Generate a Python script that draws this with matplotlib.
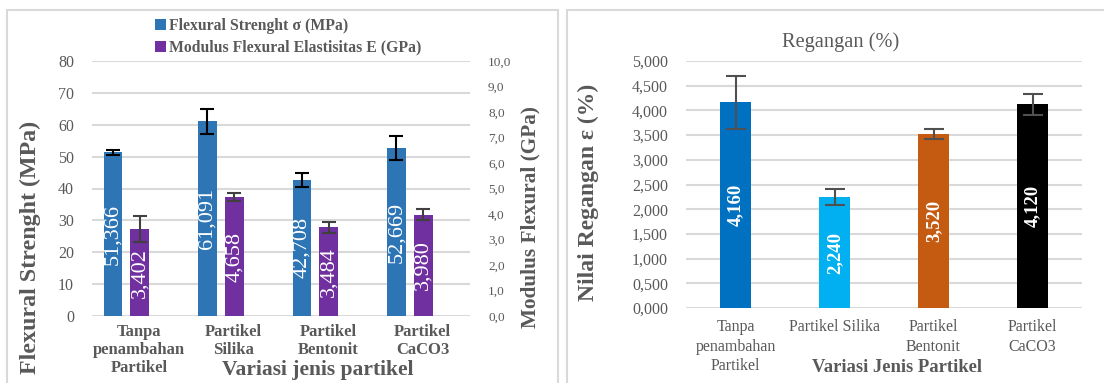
import numpy as np
import matplotlib
matplotlib.use("Agg")
import matplotlib.pyplot as plt
from matplotlib.patches import Rectangle
from matplotlib.ticker import FuncFormatter

# === DATA ===
left_categories = ["Tanpa\npenambahan\nPartikel", "Partikel\nSilika",
                   "Partikel\nBentonit", "Partikel\nCaCO3"]
flexural_strength = [51.366, 61.091, 42.708, 52.669]        # MPa
flexural_strength_err = [0.7, 4.0, 2.3, 3.7]
modulus_flexural = [3.402, 4.658, 3.484, 3.980]              # GPa
modulus_flexural_err = [0.5, 0.15, 0.22, 0.23]

right_categories = ["Tanpa\npenambahan\nPartikel", "Partikel Silika",
                    "Partikel\nBentonit", "Partikel\nCaCO3"]
regangan = [4.160, 2.240, 3.520, 4.120]                      # %
regangan_err = [0.53, 0.16, 0.10, 0.21]

plt.rcParams['font.family'] = ['Liberation Serif', 'DejaVu Serif']

W, H = 1104, 383
GRID = '#d9d9d9'
TXT = '#595959'


def px(x0, y_bottom, w, h):
    # pixel box (left, bottom y from top, width, height) -> figure fraction
    return [x0 / W, (H - y_bottom) / H, w / W, h / H]


def comma(fmt):
    return FuncFormatter(lambda v, p: (fmt % v).replace('.', ','))


fig = plt.figure(figsize=(W / 100, H / 100), dpi=100)

# panel frames
fig.patches.append(Rectangle((7 / W, -0.1), (558 - 7) / W, (H - 10) / H + 0.1,
                             transform=fig.transFigure, fill=False,
                             edgecolor=GRID, lw=1.5))
fig.patches.append(Rectangle((567 / W, -0.1), 1 - 567 / W + 0.01, (H - 10) / H + 0.1,
                             transform=fig.transFigure, fill=False,
                             edgecolor=GRID, lw=1.5))

# === LEFT CHART ===
ax = fig.add_axes(px(92, 316, 378, 255))
ax2 = ax.twinx()
x = np.arange(len(left_categories))
bw = 0.2
blue = '#2e75b6'
purple = '#7030a0'
b1 = ax.bar(x - 0.278, flexural_strength, bw, color=blue, zorder=3,
            yerr=flexural_strength_err, capsize=5,
            error_kw=dict(ecolor='black', elinewidth=1.5, capthick=1.5, zorder=4))
b2 = ax2.bar(x + 0.005, modulus_flexural, bw, color=purple, zorder=3,
             yerr=modulus_flexural_err, capsize=5,
             error_kw=dict(ecolor='#404040', elinewidth=1.5, capthick=1.5))
ax.set_xlim(-0.5, 3.5)
ax.set_ylim(0, 80)
ax.set_yticks(np.arange(0, 81, 10))
ax2.set_ylim(0, 10)
ax2.set_yticks(np.arange(0, 10.1, 1))
ax2.yaxis.set_major_formatter(comma('%.1f'))
ax.yaxis.grid(True, color=GRID, lw=1.5, zorder=0)
ax.set_axisbelow(True)
for a in (ax, ax2):
    for s in a.spines.values():
        s.set_visible(False)
    a.tick_params(length=0)
ax.tick_params(axis='y', labelsize=11.5, labelcolor=TXT, pad=13)
ax2.tick_params(axis='y', labelsize=9.5, labelcolor=TXT, pad=13)
ax.set_xticks(x)
ax.set_xticklabels(left_categories, fontsize=12, fontweight='bold',
                   color=TXT, linespacing=1.15)
ax.tick_params(axis='x', pad=6)

for rect, v in zip(b1, flexural_strength):
    ax.text(rect.get_x() + rect.get_width() / 2, v / 2,
            ('%.3f' % v).replace('.', ','), rotation=90, ha='center',
            va='center', color='white', fontsize=16, zorder=5)
for rect, v in zip(b2, modulus_flexural):
    ax2.text(rect.get_x() + rect.get_width() / 2, v / 2,
             ('%.3f' % v).replace('.', ','), rotation=90, ha='center',
             va='center', color='white', fontsize=16, zorder=5)

fig.text(30 / W, 1 - 247 / H, 'Flexural Strenght (MPa)', rotation=90,
         ha='center', va='center', fontsize=17.3, fontweight='bold', color=TXT)
fig.text(530 / W, 1 - 217 / H, 'Modulus Flexural (GPa)', rotation=90,
         ha='center', va='center', fontsize=15.3, fontweight='bold', color=TXT)
fig.text(318 / W, 1 - 370 / H, 'Variasi jenis partikel', ha='center',
         va='center', fontsize=15.5, fontweight='bold', color=TXT)
fig.legend([b1, b2], ['Flexural Strenght σ (MPa)',
                      'Modulus Flexural Elastisitas E (GPa)'],
           loc='upper left', bbox_to_anchor=(141 / W, 1 - 4 / H),
           frameon=False, handlelength=0.7, handleheight=0.7,
           handletextpad=0.2, labelspacing=0.35,
           prop=dict(family='Liberation Serif', weight='bold', size=11.3),
           labelcolor=TXT)

# === RIGHT CHART ===
axr = fig.add_axes(px(686, 308, 396, 247))
xr = np.arange(len(right_categories))
colors_r = ['#0070c0', '#00b0f0', '#c55a11', '#000000']
br = axr.bar(xr, regangan, 0.32, color=colors_r, zorder=3,
             yerr=regangan_err, capsize=7,
             error_kw=dict(ecolor='#505050', elinewidth=1.5, capthick=1.5))
axr.set_xlim(-0.5, 3.5)
axr.set_ylim(0, 5)
axr.set_yticks(np.arange(0, 5.01, 0.5))
axr.yaxis.set_major_formatter(comma('%.3f'))
axr.yaxis.grid(True, color=GRID, lw=1.5, zorder=0)
axr.set_axisbelow(True)
for s in axr.spines.values():
    s.set_visible(False)
axr.tick_params(length=0)
axr.tick_params(axis='y', labelsize=11.5, labelcolor=TXT, pad=13)
axr.set_xticks(xr)
axr.set_xticklabels(right_categories, fontsize=11.5, color=TXT, linespacing=1.3)
axr.tick_params(axis='x', pad=8)
for rect, v in zip(br, regangan):
    axr.text(rect.get_x() + rect.get_width() / 2, v / 2,
             ('%.3f' % v).replace('.', ','), rotation=90, ha='center',
             va='center', color='white', fontsize=13.5, fontweight='bold',
             zorder=5)

fig.text(841 / W, 1 - 42 / H, 'Regangan (%)', ha='center', va='center',
         fontsize=14.7, color=TXT)
fig.text(588 / W, 1 - 192 / H, 'Nilai Regangan ε (%)', rotation=90,
         ha='center', va='center', fontsize=17, fontweight='bold', color=TXT)
fig.text(897 / W, 1 - 367 / H, 'Variasi Jenis Partikel', ha='center',
         va='center', fontsize=13.4, fontweight='bold', color=TXT)

fig.savefig('out.png', dpi=100)
